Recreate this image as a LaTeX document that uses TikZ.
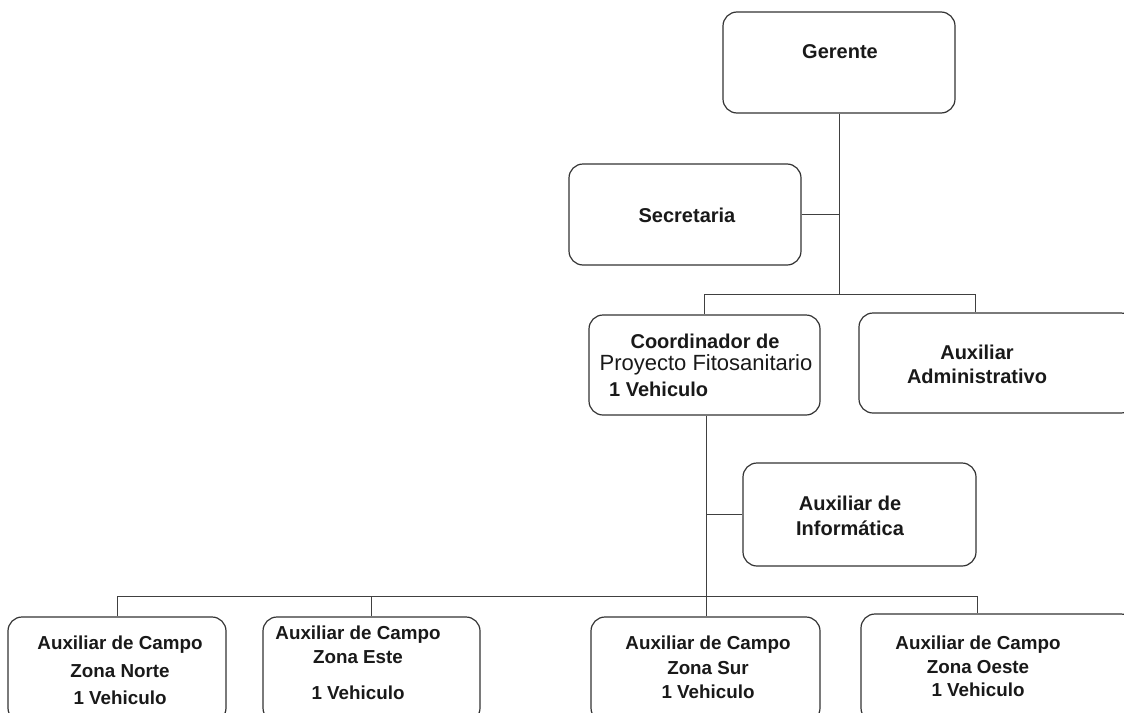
\documentclass[tikz,border=0pt]{standalone}
\usepackage{fontspec}
\setmainfont{Liberation Sans}
\begin{document}
\begin{tikzpicture}[x=1pt,y=-1pt,
  box/.style={draw=black!80,line width=1.2pt,rounded corners=14pt,inner sep=0pt,fill=none},
  lbl/.style={font=\fontsize{20}{25}\selectfont\bfseries,text=black!90,align=center,inner sep=0pt},
  reg/.style={font=\fontsize{22}{25}\selectfont,text=black!90,inner sep=0pt},
  link/.style={draw=black!75,line width=0.9pt}]
\useasboundingbox (0,0) rectangle (1124,712);
\clip (0,0) rectangle (1124,712);
% boxes
\node[box,minimum width=232pt,minimum height=101pt] (g) at (839,62.5) {};
\node[box,minimum width=232pt,minimum height=101pt] (s) at (685,214.5) {};
\node[box,minimum width=231pt,minimum height=100pt] (c) at (704.5,365) {};
\node[box,minimum width=276pt,minimum height=100pt] (aa) at (997,363) {};
\node[box,minimum width=233pt,minimum height=103pt] (ai) at (859.5,514.5) {};
\node[box,minimum width=218pt,minimum height=105pt] (b1) at (117,669.5) {};
\node[box,minimum width=217pt,minimum height=105pt] (b2) at (371.5,669.5) {};
\node[box,minimum width=229pt,minimum height=105pt] (b3) at (705.5,669.5) {};
\node[box,minimum width=274pt,minimum height=108pt] (b4) at (998,668) {};
% texts
\node[lbl] (tg) at (840,52) {Gerente};
\node[lbl] (ts) at (687,215) {Secretaria};
\node[lbl,anchor=base,text depth=0pt] (tc1) at (705,348) {Coordinador de};
\node[reg,anchor=base,text height=0.72em] (tc2) at (706,370) {Proyecto Fitosanitario};
\node[lbl,anchor=west] (tc3) at (609,389) {1 Vehiculo};
\node[lbl,font=\fontsize{20}{24}\selectfont\bfseries] (taa) at (977,364) {Auxiliar\\Administrativo};
\node[lbl,font=\fontsize{20}{25}\selectfont\bfseries] (tai) at (850,515.5) {Auxiliar de\\Inform\'atica};
\node[lbl,font=\fontsize{18.8}{27.5}\selectfont\bfseries] (tb1) at (120,670.5) {Auxiliar de Campo\\Zona Norte\\1 Vehiculo};
\node[lbl,font=\fontsize{18.8}{24}\selectfont\bfseries] (tb2) at (358,663) {Auxiliar de Campo\\Zona Este\\[12pt]1 Vehiculo};
\node[lbl,font=\fontsize{18.8}{24.5}\selectfont\bfseries] (tb3) at (708,667.5) {Auxiliar de Campo\\Zona Sur\\1 Vehiculo};
\node[lbl,font=\fontsize{18.8}{23.5}\selectfont\bfseries] (tb4) at (978,666.5) {Auxiliar de Campo\\Zona Oeste\\1 Vehiculo};
% junctions
\coordinate (j1) at (839,294);
\coordinate (j1l) at (704,294);
\coordinate (j1r) at (975,294);
\coordinate (j2) at (706,596);
\coordinate (j2a) at (117,596);
\coordinate (j2b) at (371,596);
\coordinate (j2d) at (977,596);
% connectors
\draw[link] (g.south) -- (j1);
\draw[link] (s.east) -- (s.east -| j1);
\draw[link] (j1l) -- (j1r);
\draw[link] (j1l) -- (j1l |- c.north);
\draw[link] (j1r) -- (j1r |- aa.north);
\draw[link] (j2 |- c.south) -- (j2);
\draw[link] (ai.west) -- (ai.west -| j2);
\draw[link] (j2a) -- (j2d);
\draw[link] (j2a) -- (j2a |- b1.north);
\draw[link] (j2b) -- (j2b |- b2.north);
\draw[link] (j2) -- (j2 |- b3.north);
\draw[link] (j2d) -- (j2d |- b4.north);
\end{tikzpicture}
\end{document}
